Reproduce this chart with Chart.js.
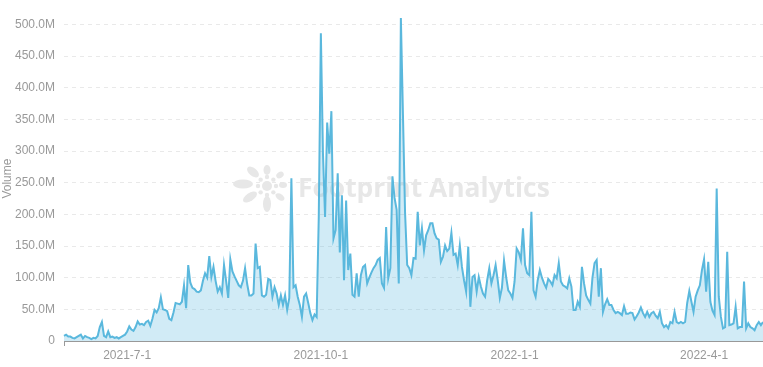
<!DOCTYPE html>
<html>
<head>
<meta charset="utf-8">
<script src="https://cdn.jsdelivr.net/npm/chart.js@4.4.1/dist/chart.umd.min.js"></script>
<style>
  html, body { margin: 0; padding: 0; background: #fff; }
  #wrap { width: 763px; height: 367px; }
</style>
</head>
<body>
<div id="wrap"><canvas id="volumeChart" width="763" height="367"></canvas></div>
<script>
// daily volume, millions
const jun21 = [8,10,7,7,5,4,6,8,10,4,8,6,5,3,5,4,8,22,30,8,6,15,6,7,5,6,4,6,8,10];
const jul21 = [15,23,18,16,22,31,26,27,25,30,32,24,35,49,45,52,69,50,49,47,35,33,45,60,59,58,62,88,52,120,92];
const aug21 = [84,82,78,77,80,95,107,100,134,101,117,95,78,85,75,120,95,68,129,110,102,95,88,85,95,115,90,72,72,75,154];
const sep21 = [115,117,72,70,73,98,96,70,85,75,57,72,57,72,49,68,257,85,88,70,57,38,70,75,60,44,33,42,38,195];
const oct21 = [486,296,196,345,296,363,162,175,265,140,230,96,222,112,138,73,70,107,70,104,117,120,91,100,108,115,120,128,131,91,84];
const nov21 = [180,99,115,260,226,207,91,510,356,202,120,115,104,131,130,204,151,178,143,167,175,186,186,170,162,160,125,133,151,142];
const dec21 = [146,171,136,138,120,151,117,96,78,149,54,101,104,78,101,86,75,70,96,115,91,104,120,96,68,84,127,101,80,75,68];
const jan22 = [94,146,140,128,178,120,107,104,204,80,70,96,112,100,91,84,98,94,88,104,99,123,94,88,86,83,99,86,49,49,62];
const feb22 = [54,117,91,72,65,59,100,123,128,70,115,46,58,66,57,57,49,44,46,44,41,55,43,43,45,44,34,39];
const mar22 = [45,53,44,38,46,38,44,46,40,36,46,28,22,25,20,30,28,46,30,28,30,28,30,60,79,62,46,70,80,88,112];
const apr22 = [129,78,125,62,48,41,241,70,38,20,22,141,25,26,28,54,20,22,22,94,20,28,22,20,17,25,30,25,30];

const xTickLabels = ['2021-7-1', '2021-10-1', '2022-1-1', '2022-4-1'];
const yTicks = [0, 50, 100, 150, 200, 250, 300, 350, 400, 450, 500];

const volume = [].concat(jun21, jul21, aug21, sep21, oct21, nov21, dec21, jan22, feb22, mar22, apr22);

// one label per day starting 2021-6-1
const startDate = Date.UTC(2021, 5, 1);
const labels = volume.map((_, i) => {
    const d = new Date(startDate + i * 86400000);
    return d.getUTCFullYear() + '-' + (d.getUTCMonth() + 1) + '-' + d.getUTCDate();
});

Chart.defaults.font.family = '"Liberation Sans", Arial, sans-serif';
Chart.defaults.font.size = 12;

// faint "Footprint Analytics" mark behind the series
const watermark = {
    id: 'watermark',
    beforeDatasetsDraw(chart) {
        const c = chart.ctx;
        c.save();
        c.fillStyle = '#e7e7e7';
        const cx = 267, cy = 186;
        const petals = [
            [-24, -2, 10, 4.5, 0],
            [-14, -14, 7, 4, 0.7],
            [0, -16, 3.5, 5, 0],
            [13, -11, 4, 3, -0.6],
            [16, -1, 4, 3, 0],
            [13, 11, 5, 3, 0.6],
            [0, 18, 4, 8, 0],
            [-17, 11, 8, 4, -0.6]
        ];
        petals.forEach(p => {
            c.beginPath();
            c.ellipse(cx + p[0], cy + p[1], p[2], p[3], p[4], 0, Math.PI * 2);
            c.fill();
        });
        c.beginPath();
        c.arc(cx, cy, 5, 0, Math.PI * 2);
        c.fill();
        for (let k = 0; k < 8; k++) {
            const a = k * Math.PI / 4;
            c.beginPath();
            c.arc(cx + Math.cos(a) * 9, cy + Math.sin(a) * 9, 2.2, 0, Math.PI * 2);
            c.fill();
        }
        c.font = 'bold 22px "Open Sans", sans-serif';
        const w = c.measureText('Footprint Analytics').width;
        const size = 22 * 252 / w;
        c.font = 'bold ' + size.toFixed(1) + 'px "Open Sans", sans-serif';
        c.textBaseline = 'alphabetic';
        c.fillText('Footprint Analytics', 298, 197);
        c.restore();
    }
};

const ctx = document.getElementById('volumeChart').getContext('2d');

const volumeChart = new Chart(ctx, {
    type: 'line',
    data: {
        labels: labels,
        datasets: [{
            label: 'Volume',
            data: volume,
            borderColor: '#5ab8dd',
            backgroundColor: 'rgba(91,184,222,0.28)',
            borderWidth: 2,
            fill: 'origin',
            pointRadius: 0,
            tension: 0
        }]
    },
    options: {
        responsive: false,
        animation: false,
        layout: { padding: { top: 7, right: 0, bottom: 0, left: 0 } },
        plugins: {
            legend: { display: false },
            tooltip: { enabled: false }
        },
        scales: {
            x: {
                offset: false,
                // only the first tick mark is shown, labels on quarter starts
                grid: {
                    display: true,
                    drawOnChartArea: false,
                    tickLength: 5,
                    color: c => c.index === 0 ? '#999' : 'rgba(0,0,0,0)'
                },
                border: { display: true, color: '#999', width: 1 },
                afterBuildTicks: s => {
                    s.ticks = s.ticks.filter(t => t.value === 0 || xTickLabels.includes(labels[t.value]));
                },
                afterFit: s => { s.height = 26; },
                ticks: {
                    autoSkip: false,
                    maxRotation: 0,
                    color: '#999',
                    padding: 2,
                    callback: v => xTickLabels.includes(labels[v]) ? labels[v] : ''
                }
            },
            y: {
                min: 0,
                max: 513,
                afterFit: s => { s.width = 64; },
                afterBuildTicks: s => {
                    s.ticks = yTicks.map(v => ({ value: v }));
                },
                ticks: {
                    color: '#999',
                    padding: 9,
                    callback: v => v === 0 ? '0' : v.toFixed(1) + 'M'
                },
                grid: { color: '#e9e9e9', drawTicks: false },
                border: { display: false, dash: [4, 4] },
                title: { display: true, text: 'Volume', color: '#999', padding: 0 }
            }
        }
    },
    plugins: [watermark]
});
</script>
</body>
</html>
